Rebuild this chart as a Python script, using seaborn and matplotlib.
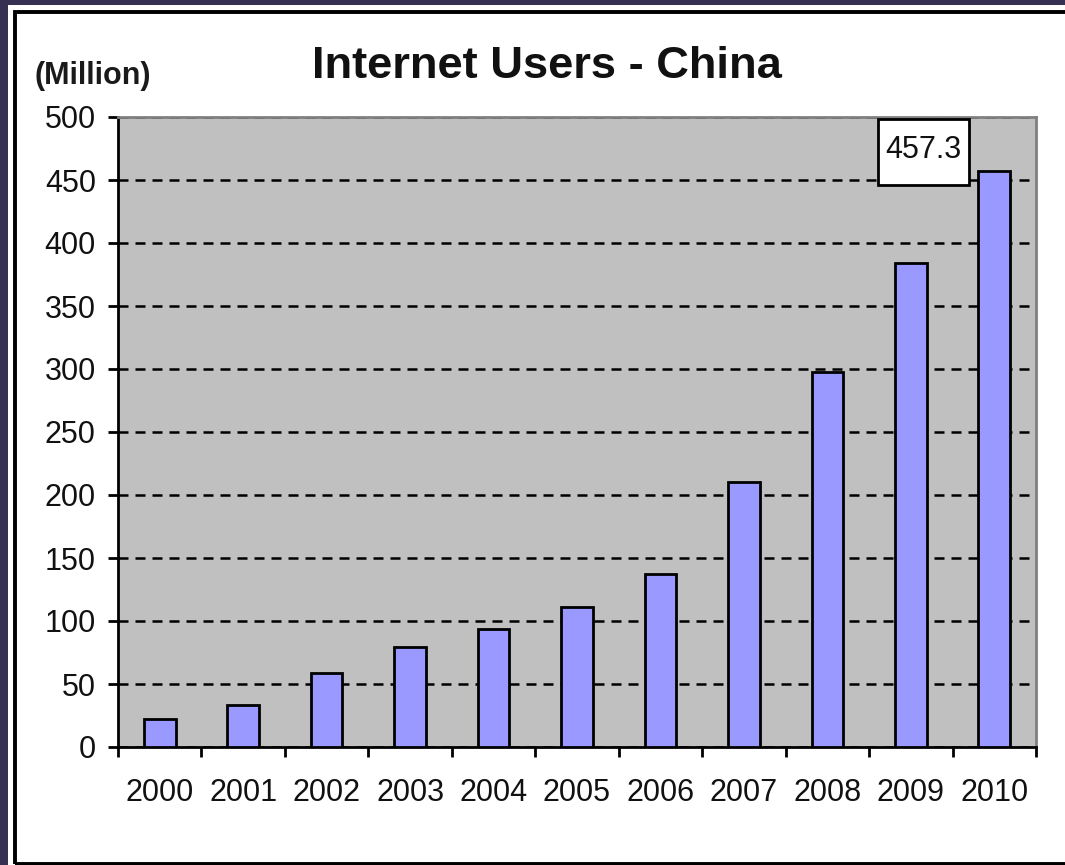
import matplotlib
matplotlib.use("Agg")
import matplotlib.pyplot as plt
import matplotlib.patches as mpatches
import seaborn as sns
import pandas as pd

years = ["2000", "2001", "2002", "2003", "2004", "2005", "2006", "2007", "2008", "2009", "2010"]
users = [22.5, 33.7, 59.1, 79.5, 94.0, 111.0, 137.0, 210.0, 298.0, 384.0, 457.3]
yticks = [0, 50, 100, 150, 200, 250, 300, 350, 400, 450, 500]
title = "Internet Users - China"
unit_label = "(Million)"
peak_label = "457.3"

sns.set_theme(style="white")
plt.rcParams["font.family"] = ["Liberation Sans", "DejaVu Sans"]

df = pd.DataFrame({"year": years, "users": users})

fig = plt.figure(figsize=(10.65, 8.65), dpi=100, facecolor="white")
ax = fig.add_axes([118 / 1065, 1 - 747 / 865, (1036 - 118) / 1065, (747 - 117) / 865])
ax.set_facecolor("#C0C0C0")

sns.barplot(data=df, x="year", y="users", color="#9999FF", saturation=1,
            width=0.38, edgecolor="black", linewidth=2.0, ax=ax, zorder=3)

ax.set_ylim(0, 500)
ax.set_xlim(-0.5, len(years) - 0.5)
ax.set_yticks(yticks)
ax.set_yticklabels([str(t) for t in yticks])
ax.yaxis.grid(True, linestyle=(0, (4.0, 2.8)), color="black", linewidth=1.8, zorder=1)
ax.xaxis.grid(False)
ax.set_axisbelow(True)
ax.set_xlabel("")
ax.set_ylabel("")

# x ticks at category boundaries
ax.set_xticks([i - 0.5 for i in range(len(years) + 1)], minor=True)
ax.tick_params(axis="x", which="major", length=0, pad=22, labelsize=22, colors="#111111")
ax.tick_params(axis="x", which="minor", length=7, width=2.0, color="black", direction="out", bottom=True)
ax.tick_params(axis="y", which="major", length=7, width=2.0, color="black", direction="out", left=True,
               pad=9, labelsize=22, labelcolor="#111111")

for side in ["left", "bottom"]:
    ax.spines[side].set_color("black")
    ax.spines[side].set_linewidth(2.0)
    ax.spines[side].set_visible(True)
for side in ["top", "right"]:
    ax.spines[side].set_color("#808080")
    ax.spines[side].set_linewidth(2.0)
    ax.spines[side].set_visible(True)

# peak value box
last = len(years) - 1
box = mpatches.Rectangle((last - 1.39, users[-1] - 11.3), 1.09, 52.4, facecolor="white",
                         edgecolor="black", linewidth=2.0, zorder=5, clip_on=False)
ax.add_patch(box)
ax.text(last - 1.39 + 0.545, users[-1] - 11.3 + 28.0, peak_label, ha="center", va="center",
        fontsize=22, color="#111111", zorder=6)

# titles
fig.text(547 / 1065, 1 - 67 / 865, title, ha="center", va="center", fontsize=32.6,
         fontweight="bold", color="#111111")
fig.text(35 / 1065, 1 - 76 / 865, unit_label, ha="left", va="center", fontsize=22,
         fontweight="bold", color="#1a1a1a")

# outer frame
fig.patches.append(mpatches.Rectangle((0, 1 - 5 / 865), 1, 5 / 865, transform=fig.transFigure,
                                      facecolor="#363152", edgecolor="none", zorder=0))
fig.patches.append(mpatches.Rectangle((0, 0), 8 / 1065, 1, transform=fig.transFigure,
                                      facecolor="#363152", edgecolor="none", zorder=0))
fig.patches.append(mpatches.Rectangle((15 / 1065, 1 / 865), 1.05, 1 - 13 / 865, transform=fig.transFigure,
                                      facecolor="none", edgecolor="black", linewidth=2.8, zorder=1))

fig.savefig("out.png", dpi=100, facecolor="white")
